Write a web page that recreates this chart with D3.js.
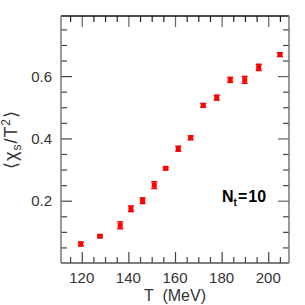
<!DOCTYPE html>
<html>
<head>
<meta charset="utf-8">
<script src="https://cdn.jsdelivr.net/npm/d3@7"></script>
<style>
  body { margin: 0; background: #fff; }
  svg { display: block; }
  text { font-family: "Liberation Sans", Arial, sans-serif; }
</style>
</head>
<body>
<svg id="chart"></svg>
<script>
// temperatures (MeV)
var temps = [119.6, 127.8, 136.5, 141.1, 146.1, 151.1, 156.0, 161.4, 166.7, 172.1, 177.9, 183.7, 189.9, 195.9, 205.0];
// <chi_s / T^2>
var chiVals = [0.061, 0.086, 0.121, 0.174, 0.200, 0.250, 0.304, 0.367, 0.402, 0.506, 0.531, 0.588, 0.588, 0.628, 0.669];
var chiErrs = [0.006, 0.004, 0.011, 0.009, 0.009, 0.011, 0.004, 0.008, 0.006, 0.006, 0.008, 0.008, 0.011, 0.010, 0.006];

var xMajor = [120, 140, 160, 180, 200];
var yMajor = [0.2, 0.4, 0.6];

var margin = {top: 16, right: 16, bottom: 42, left: 61},
    width = 305 - margin.left - margin.right,
    height = 305 - margin.top - margin.bottom;

var x = d3.scaleLinear().domain([111.1, 208.9]).range([0, width]);
var y = d3.scaleLinear().domain([0, 0.793]).range([height, 0]);

var svg = d3.select('#chart')
    .attr("width", 305)
    .attr("height", 305);

var g = svg.append("g")
    .attr("transform", "translate(" + margin.left + "," + margin.top + ")");

var xMinor = d3.range(115, 209, 5).filter(function(v) { return v % 20 != 0; });
var yMinor = d3.range(0.05, 0.79, 0.05).filter(function(v) {
    return Math.abs(v * 10 - Math.round(v * 10)) > 0.01 || Math.round(v * 10) % 2 == 1;
});

// inward ticks on all four sides
function addTicks(gen, vals, size, transform, color) {
    var a = g.append("g")
        .attr("class", "axis")
        .attr("transform", transform)
        .call(gen.tickValues(vals).tickSize(size).tickFormat(""));
    a.select(".domain").remove();
    a.selectAll("line").attr("stroke", color).attr("stroke-width", 1.2);
}

addTicks(d3.axisBottom(x), xMajor, -11, "translate(0," + height + ")", "#444");
addTicks(d3.axisBottom(x), xMinor, -6, "translate(0," + height + ")", "#444");
addTicks(d3.axisTop(x), xMajor, -11, "translate(0,0)", "#666");
addTicks(d3.axisTop(x), xMinor, -6, "translate(0,0)", "#222");
addTicks(d3.axisLeft(y), yMajor, -11, "translate(0,0)", "#444");
addTicks(d3.axisLeft(y), yMinor, -6, "translate(0,0)", "#444");
addTicks(d3.axisRight(y), yMajor, -11, "translate(" + width + ",0)", "#666");
addTicks(d3.axisRight(y), yMinor, -6, "translate(" + width + ",0)", "#444");

// frame
g.append("line").attr("x1", 0).attr("x2", width).attr("y1", 0).attr("y2", 0)
    .attr("stroke", "#111").attr("stroke-width", 1.5);
g.append("line").attr("x1", 0).attr("x2", width).attr("y1", height).attr("y2", height)
    .attr("stroke", "#555").attr("stroke-width", 1.5);
g.append("line").attr("x1", 0).attr("x2", 0).attr("y1", 0).attr("y2", height)
    .attr("stroke", "#777").attr("stroke-width", 1.5);
g.append("line").attr("x1", width).attr("x2", width).attr("y1", 0).attr("y2", height)
    .attr("stroke", "#777").attr("stroke-width", 1.5);

// tick labels
g.selectAll(".xlab").data(xMajor).enter().append("text")
    .attr("class", "xlab")
    .attr("x", function(d) { return x(d); })
    .attr("y", height + 20)
    .attr("text-anchor", "middle")
    .style("font-size", "15px")
    .attr("fill", "#333")
    .text(function(d) { return d; });

g.selectAll(".ylab").data(yMajor).enter().append("text")
    .attr("class", "ylab")
    .attr("x", -9)
    .attr("y", function(d) { return y(d) + 5.5; })
    .attr("text-anchor", "end")
    .style("font-size", "15px")
    .attr("fill", "#333")
    .text(function(d) { return d.toFixed(1); });

// axis titles
g.append("text")
    .attr("x", width / 2)
    .attr("y", height + 37.5)
    .attr("text-anchor", "middle")
    .style("font-size", "16px")
    .attr("fill", "#333")
    .attr("xml:space", "preserve")
    .text("T  (MeV)");

var yt = svg.append("text")
    .attr("transform", "translate(17," + (margin.top + height / 2) + ") rotate(-90)")
    .attr("text-anchor", "middle")
    .style("font-size", "18px")
    .style("letter-spacing", "1px")
    .attr("fill", "#333");
yt.append("tspan").text("\u27E8\u03C7");
yt.append("tspan").attr("dy", 4).style("font-size", "12px").text("s");
yt.append("tspan").attr("dy", -4).text("/T");
yt.append("tspan").attr("dy", -7).style("font-size", "12px").text("2");
yt.append("tspan").attr("dy", 7).text("\u27E9");

// N_t = 10
var nt = g.append("text")
    .attr("x", 161)
    .attr("y", 186)
    .style("font-size", "16px")
    .style("font-weight", "bold")
    .attr("fill", "#000");
nt.append("tspan").text("N");
nt.append("tspan").attr("dy", 4).style("font-size", "10px").text("t");
nt.append("tspan").attr("dy", -4).attr("dx", 1).text("=");
nt.append("tspan").attr("dx", 1).text("10");

// data points with error bars
var pts = g.selectAll(".pt").data(temps).enter().append("g").attr("class", "pt");

pts.append("line")
    .attr("x1", function(d) { return x(d); })
    .attr("x2", function(d) { return x(d); })
    .attr("y1", function(d, i) { return y(chiVals[i] - chiErrs[i]); })
    .attr("y2", function(d, i) { return y(chiVals[i] + chiErrs[i]); })
    .attr("stroke", "#f00").attr("stroke-width", 2);

pts.append("line")
    .attr("x1", function(d) { return x(d) - 3; })
    .attr("x2", function(d) { return x(d) + 3; })
    .attr("y1", function(d, i) { return y(chiVals[i] - chiErrs[i]); })
    .attr("y2", function(d, i) { return y(chiVals[i] - chiErrs[i]); })
    .attr("stroke", "#f00").attr("stroke-width", 1.5);

pts.append("line")
    .attr("x1", function(d) { return x(d) - 3; })
    .attr("x2", function(d) { return x(d) + 3; })
    .attr("y1", function(d, i) { return y(chiVals[i] + chiErrs[i]); })
    .attr("y2", function(d, i) { return y(chiVals[i] + chiErrs[i]); })
    .attr("stroke", "#f00").attr("stroke-width", 1.5);

pts.append("rect")
    .attr("x", function(d) { return x(d) - 2.5; })
    .attr("y", function(d, i) { return y(chiVals[i]) - 2.5; })
    .attr("width", 5)
    .attr("height", 5)
    .attr("fill", "#f00");
</script>
</body>
</html>
